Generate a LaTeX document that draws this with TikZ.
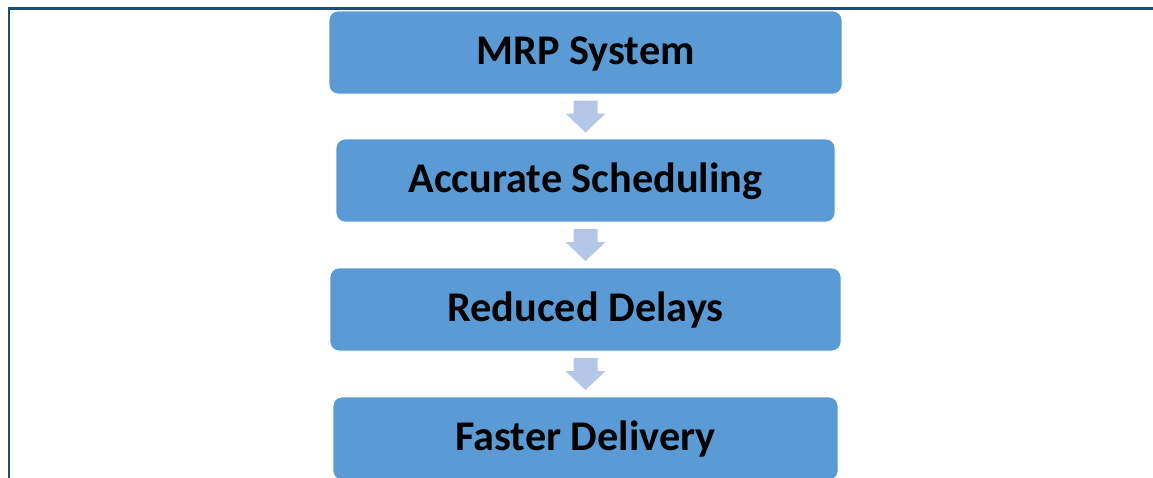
\documentclass[tikz,border=0pt]{standalone}
\usepackage{fontspec}
\setmainfont{Carlito}
\usetikzlibrary{calc}
\definecolor{boxblue}{HTML}{5B9BD5}
\definecolor{arrowblue}{HTML}{B4C7E7}
\definecolor{framecol}{HTML}{1F4E79}
\tikzset{
  stage/.style={rectangle, rounded corners=9pt, fill=boxblue, draw=white, line width=0.8pt,
    minimum height=83pt, inner sep=0pt, text height=30pt, text depth=7pt,
    font=\bfseries\fontsize{42.3}{50}\selectfont, text=black},
  flowarrow/.style={fill=arrowblue, draw=none}
}
% block arrow centred between two stacked nodes (y grows downward)
\newcommand{\blockarrow}[2]{%
  \coordinate (m-#1) at ($(#1.south)!0.5!(#2.north)$);
  \fill[flowarrow] ($(m-#1)+(-12,-16)$) -- ($(m-#1)+(12,-16)$) -- ($(m-#1)+(12,-3)$)
    -- ($(m-#1)+(20,-3)$) -- ($(m-#1)+(0,16)$) -- ($(m-#1)+(-20,-3)$)
    -- ($(m-#1)+(-12,-3)$) -- cycle;}
\begin{document}
\begin{tikzpicture}[x=1pt, y=-1pt]
  \useasboundingbox (0,0) rectangle (1153,477);
  \begin{scope}
    \clip (0,0) rectangle (1153,477);
    % outer frame (only left and top edges fall on the page)
    \draw[framecol, line width=2.5pt] (9,480) -- (9,8.5) -- (1156,8.5);
    \node[stage, minimum width=513pt] (mrp) at (585.5,52.5) {MRP System};
    \node[stage, minimum width=499pt] (sched) at (585.5,180.5) {Accurate Scheduling};
    \node[stage, minimum width=511pt] (delay) at (585.5,309.5) {Reduced Delays};
    \node[stage, minimum width=505pt] (deliv) at (585.5,438.5) {Faster Delivery};
    \blockarrow{mrp}{sched}
    \blockarrow{sched}{delay}
    \blockarrow{delay}{deliv}
  \end{scope}
\end{tikzpicture}
\end{document}
